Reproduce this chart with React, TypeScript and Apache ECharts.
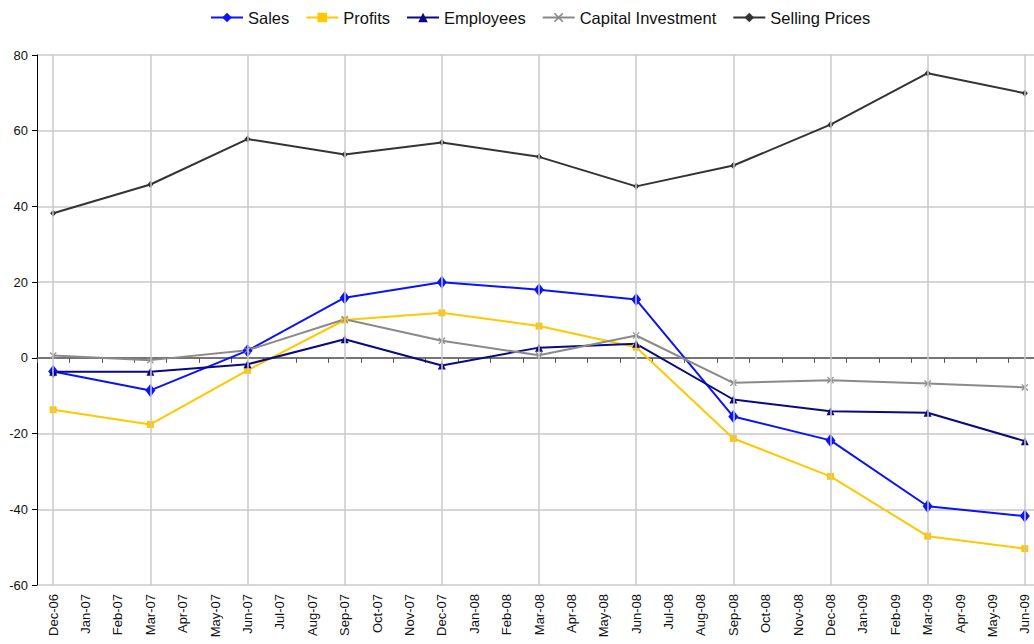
import React, { useEffect, useRef } from "react";
import * as echarts from "echarts";

const months = [
  "Dec-06", "Jan-07", "Feb-07", "Mar-07", "Apr-07", "May-07", "Jun-07", "Jul-07",
  "Aug-07", "Sep-07", "Oct-07", "Nov-07", "Dec-07", "Jan-08", "Feb-08", "Mar-08",
  "Apr-08", "May-08", "Jun-08", "Jul-08", "Aug-08", "Sep-08", "Oct-08", "Nov-08",
  "Dec-08", "Jan-09", "Feb-09", "Mar-09", "Apr-09", "May-09", "Jun-09",
];

const quarters = [
  "Dec-06", "Mar-07", "Jun-07", "Sep-07", "Dec-07", "Mar-08",
  "Jun-08", "Sep-08", "Dec-08", "Mar-09", "Jun-09",
];

const sales = [-3.6, -8.6, 1.9, 15.9, 20.0, 18.0, 15.4, -15.5, -21.8, -39.2, -41.8];
const profits = [-13.7, -17.6, -3.3, 10.0, 11.9, 8.4, 2.8, -21.3, -31.3, -47.1, -50.4];
const employees = [-3.7, -3.7, -1.7, 4.9, -2.0, 2.7, 3.7, -11.0, -14.1, -14.5, -22.0];
const capitalInvestment = [0.6, -0.6, 2.0, 10.2, 4.5, 0.7, 5.9, -6.6, -5.9, -6.8, -7.8];
const sellingPrices = [38.2, 45.8, 57.8, 53.7, 56.9, 53.1, 45.3, 50.8, 61.6, 75.2, 69.9];

const yTicks = { min: -60, max: 80, interval: 20 };

const FONT = "'Liberation Sans', Arial, sans-serif";
const X_PATH =
  "path://M0,1.2 L1.2,0 L5,3.8 L8.8,0 L10,1.2 L6.2,5 L10,8.8 L8.8,10 L5,6.2 L1.2,10 L0,8.8 L3.8,5 Z";

function pairs(vals: number[]) {
  return quarters.map((q, i) => [q, vals[i]]);
}

export default function App() {
  const ref = useRef<HTMLDivElement>(null);

  useEffect(() => {
    if (!ref.current) return;
    const chart = echarts.init(ref.current, null, { renderer: "svg" });

    const mk = (
      name: string,
      vals: number[],
      color: string,
      symbol: string,
      symbolSize: any
    ) => ({
      name,
      type: "line",
      xAxisIndex: 0,
      data: pairs(vals),
      symbol,
      symbolSize,
      showSymbol: true,
      lineStyle: { color, width: 2 },
      itemStyle: { color, borderWidth: 0 },
      emphasis: { disabled: true },
      z: 3,
    });

    chart.setOption({
      animation: false,
      backgroundColor: "#ffffff",
      textStyle: { fontFamily: FONT },
      legend: {
        top: 4,
        left: 205,
        itemWidth: 32,
        itemHeight: 12,
        itemGap: 16,
        textStyle: { fontSize: 16.5, color: "#111", fontFamily: FONT },
        data: ["Sales", "Profits", "Employees", "Capital Investment", "Selling Prices"],
      },
      grid: { left: 37, right: 0, top: 55, bottom: 59 },
      xAxis: [
        {
          type: "category",
          data: months,
          boundaryGap: true,
          position: "bottom",
          axisLine: { show: false, onZero: false },
          axisTick: { show: false },
          splitLine: { show: false },
          axisLabel: {
            interval: 0,
            rotate: 90,
            margin: 9,
            fontSize: 13,
            color: "#111",
            fontFamily: FONT,
          },
        },
        {
          type: "category",
          data: months,
          boundaryGap: true,
          position: "bottom",
          axisLine: { show: true, onZero: true, lineStyle: { color: "#555", width: 1.5 } },
          axisTick: { show: true, interval: 0, length: 5, lineStyle: { color: "#555", width: 1 } },
          axisLabel: { show: false },
          splitLine: { show: false },
        },
      ],
      yAxis: {
        type: "value",
        min: yTicks.min,
        max: yTicks.max,
        interval: yTicks.interval,
        axisLine: { show: true, lineStyle: { color: "#000", width: 1 } },
        axisTick: { show: true, length: 5, lineStyle: { color: "#000" } },
        axisLabel: { fontSize: 13, color: "#111", margin: 9, fontFamily: FONT },
        splitLine: { show: true, lineStyle: { color: "#c8c8c8", width: 1.5 } },
      },
      series: [
        {
          type: "line",
          xAxisIndex: 0,
          data: [],
          silent: true,
          z: 1,
          markLine: {
            silent: true,
            symbol: "none",
            label: { show: false },
            lineStyle: { color: "#c8c8c8", width: 1.5, type: "solid" },
            data: quarters.map((q) => ({ xAxis: q })),
          },
        },
        mk("Sales", sales, "#0a14f5", "diamond", [10, 13]),
        mk("Profits", profits, "#ffc800", "rect", 7),
        mk("Employees", employees, "#0a0a80", "triangle", 8),
        mk("Capital Investment", capitalInvestment, "#8a8a8a", X_PATH, 7),
        mk("Selling Prices", sellingPrices, "#333333", "diamond", [6, 7]),
      ],
    });

    return () => chart.dispose();
  }, []);

  return (
    <div
      ref={ref}
      style={{ position: "fixed", left: 0, top: 0, width: 1041, height: 644, background: "#fff" }}
    />
  );
}
